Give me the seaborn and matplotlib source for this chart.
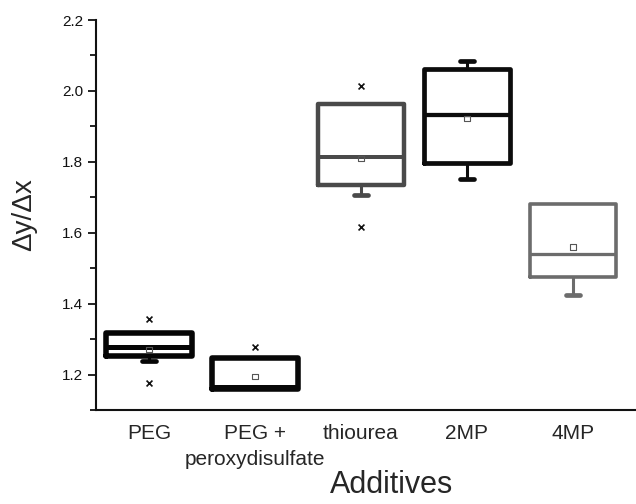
import numpy as np
import pandas as pd
import matplotlib
matplotlib.use("Agg")
import matplotlib.pyplot as plt
import seaborn as sns

# Additive groups and their box statistics (slope Δy/Δx)
categories = ["PEG", "PEG +\nperoxydisulfate", "thiourea", "2MP", "4MP"]
q1 = [1.251, 1.158, 1.736, 1.796, 1.474]
median = [1.279, 1.166, 1.814, 1.932, 1.541]
q3 = [1.316, 1.246, 1.964, 2.063, 1.682]
whisker_lo = [1.238, 1.158, 1.706, 1.752, 1.423]
whisker_hi = [1.316, 1.246, 1.964, 2.083, 1.682]
means = [1.270, 1.195, 1.809, 1.922, 1.560]
extreme_lo = [1.177, np.nan, 1.615, np.nan, np.nan]
extreme_hi = [1.358, 1.278, 2.013, np.nan, np.nan]

# Per-box line styling
box_colors = ["#050505", "#080808", "#4a4a4a", "#0c0c0c", "#6c6c6c"]
box_lw = [4.0, 4.0, 3.2, 3.4, 2.6]

sns.set_theme(style="ticks")
plt.rcParams["font.family"] = ["Liberation Sans", "DejaVu Sans"]

fig = plt.figure(figsize=(6.36, 5.04), dpi=100)
ax = fig.add_axes([0.1509, 0.1865, 0.8491, 0.7738])

positions = np.arange(len(categories))
for i, pos in enumerate(positions):
    stats = [{
        "q1": q1[i], "med": median[i], "q3": q3[i],
        "whislo": whisker_lo[i], "whishi": whisker_hi[i],
        "fliers": [], "label": categories[i],
    }]
    c = box_colors[i]
    lw = box_lw[i]
    parts = ax.bxp(
        stats, positions=[pos], widths=0.82, capwidths=0.14,
        manage_ticks=False, showfliers=False,
        boxprops=dict(color=c, linewidth=lw, solid_joinstyle="round"),
        medianprops=dict(color=c, linewidth=lw * 0.9),
        whiskerprops=dict(color=c, linewidth=2.2),
        capprops=dict(color=c, linewidth=3.4, solid_capstyle="round"),
    )
    # whiskers that end on the box edge have no visible cap
    lo_cap, hi_cap = parts["caps"]
    lo_wh, hi_wh = parts["whiskers"]
    if whisker_lo[i] >= q1[i]:
        lo_cap.set_visible(False)
        lo_wh.set_visible(False)
    if whisker_hi[i] <= q3[i]:
        hi_cap.set_visible(False)
        hi_wh.set_visible(False)
    for art in parts["caps"] + parts["whiskers"]:
        art.set_zorder(1.5)
    for art in parts["boxes"] + parts["medians"]:
        art.set_zorder(2.5)

# Mean markers (open squares) and extreme markers (crosses)
df_mean = pd.DataFrame({"pos": positions, "value": means})
df_ext = pd.DataFrame({
    "pos": np.concatenate([positions, positions]),
    "value": extreme_lo + extreme_hi,
}).dropna()

sns.scatterplot(data=df_mean, x="pos", y="value", marker="s", s=14,
                facecolor="none", edgecolor="#555555", linewidth=0.8,
                ax=ax, zorder=5, legend=False)
sns.scatterplot(data=df_ext, x="pos", y="value", marker="x", s=18,
                color="#111111", linewidth=1.2, ax=ax, zorder=5, legend=False)

ax.set_xlim(-0.5, -0.5 + 540 / 106)
ax.set_ylim(1.1, 2.2)
ax.set_xticks(positions)
ax.set_xticklabels(categories, fontsize=15, linespacing=1.5,
                   verticalalignment="top")
ax.tick_params(axis="x", length=0, pad=10)
ax.set_yticks([1.2, 1.4, 1.6, 1.8, 2.0, 2.2])
ax.set_yticks(np.arange(1.1, 2.2, 0.2), minor=True)
ax.yaxis.set_major_formatter(matplotlib.ticker.FormatStrFormatter("%.1f"))
ax.tick_params(axis="y", which="major", direction="out", length=6,
               width=1.3, labelsize=11, pad=3, colors="#111111")
ax.tick_params(axis="y", which="minor", direction="out", length=4,
               width=1.3, colors="#111111")

sns.despine(ax=ax)
for side in ("left", "bottom"):
    ax.spines[side].set_linewidth(1.5)
    ax.spines[side].set_color("#111111")

ax.set_ylabel("Δy/Δx", fontsize=20)
ax.yaxis.set_label_coords(-0.133, 0.5)
ax.yaxis.label.set_verticalalignment("center")
ax.set_xlabel("Additives", fontsize=22)
ax.xaxis.set_label_coords(0.548, -0.193)
ax.xaxis.label.set_verticalalignment("center")

ax.grid(False)
fig.savefig("out.png", dpi=100, facecolor="white")
